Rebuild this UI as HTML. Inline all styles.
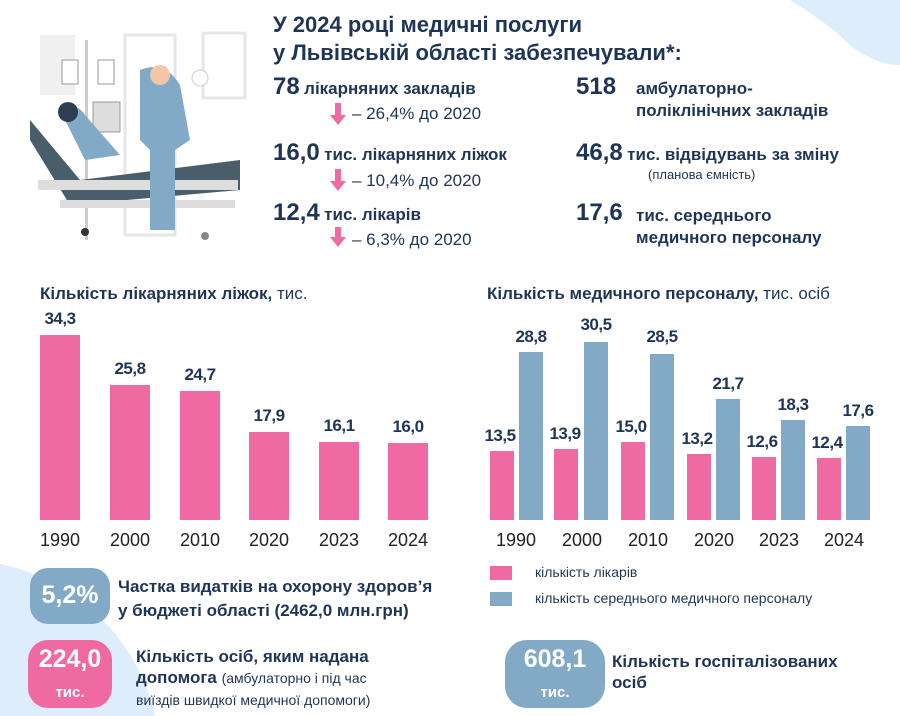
<!DOCTYPE html>
<html><head><meta charset="utf-8"><style>
*{margin:0;padding:0;box-sizing:border-box}
html,body{width:900px;height:716px;overflow:hidden}
body{background:#fff;font-family:"Liberation Sans","DejaVu Sans",sans-serif;color:#1f3556;position:relative}
.a{position:absolute;white-space:nowrap}
.b{font-weight:bold}
.bar{position:absolute}
.p{background:#ef6aa2}.u{background:#82a9c5}
.v{position:absolute;font-weight:bold;font-size:17px;text-align:center;width:60px;letter-spacing:-0.5px}
.y{position:absolute;font-size:18px;text-align:center;width:60px;top:530px;color:#222}
</style></head><body>
<svg class="a" style="left:0;top:0" width="900" height="716">
<circle cx="-40" cy="760" r="200" fill="#deedfb"/>
<path d="M790 0 Q830 25 850 45 Q875 65 900 65 L900 0 Z" fill="#deedfb"/>
<rect x="40" y="35" width="35" height="60" fill="#f0f0f0"/>
<rect x="125" y="35" width="50" height="200" fill="none" stroke="#e6e6e6" stroke-width="3"/>
<rect x="203" y="33" width="42" height="65" fill="none" stroke="#e6e6e6" stroke-width="3"/>
<rect x="85" y="40" width="3" height="200" fill="#ccc"/>
<rect x="62" y="60" width="16" height="24" fill="#fff" stroke="#999"/>
<rect x="98" y="60" width="16" height="24" fill="#fff" stroke="#999"/>
<rect x="93" y="102" width="27" height="30" fill="#ddd" stroke="#999"/>
<path d="M30 120 L80 180 L240 160 L240 190 L70 205 L30 140 Z" fill="#4a5d6b"/>
<rect x="38" y="180" width="200" height="10" fill="#ddd"/>
<rect x="60" y="200" width="175" height="8" fill="#ddd"/>
<path d="M140 70 Q165 60 180 85 L190 140 L175 150 L175 230 L150 230 L150 150 L140 140 Z" fill="#82a9c5"/>
<circle cx="160" cy="75" r="10" fill="#f3c6a9"/>
<path d="M60 110 Q75 100 85 115 L120 155 L85 160 Z" fill="#82a9c5"/>
<circle cx="68" cy="112" r="10" fill="#2c3e50"/>
<circle cx="200" cy="78" r="8" fill="#fff" stroke="#ccc"/>
<circle cx="85" cy="232" r="4" fill="#333"/><circle cx="205" cy="236" r="4" fill="#888"/>
</svg>
<div class="a b" style="left:273px;top:11px;font-size:22px;line-height:28px">У 2024 році медичні послуги<br>у Львівській області забезпечували*:</div>
<div class="a" style="left:273px;top:73px"><span class="b" style="font-size:24px">78</span> <span class="b" style="font-size:17px">лікарняних закладів</span></div>
<div class="a" style="left:352px;top:104px;font-size:17px">– 26,4% до 2020</div>
<div class="a" style="left:273px;top:139px"><span class="b" style="font-size:24px">16,0</span> <span class="b" style="font-size:17px">тис. лікарняних ліжок</span></div>
<div class="a" style="left:352px;top:171px;font-size:17px">– 10,4% до 2020</div>
<div class="a" style="left:273px;top:199px"><span class="b" style="font-size:24px">12,4</span> <span class="b" style="font-size:17px">тис. лікарів</span></div>
<div class="a" style="left:352px;top:230px;font-size:17px">– 6,3% до 2020</div>
<svg class="a" style="left:330px;top:103px" width="16" height="146"><g fill="#ef6aa2">
<rect x="5" y="0" width="6" height="12"/><path d="M0 12 L16 12 L8 22Z"/>
<rect x="5" y="66" width="6" height="12"/><path d="M0 78 L16 78 L8 88Z"/>
<rect x="5" y="124" width="6" height="12"/><path d="M0 134 L16 134 L8 144Z"/></g></svg>
<div class="a b" style="left:576px;top:73px;font-size:24px">518</div>
<div class="a b" style="left:636px;top:78px;font-size:17px;line-height:22px">амбулаторно-<br>поліклінічних закладів</div>
<div class="a" style="left:576px;top:139px"><span class="b" style="font-size:24px">46,8</span> <span class="b" style="font-size:17px">тис. відвідувань за зміну</span></div>
<div class="a" style="left:648px;top:167px;font-size:13px">(планова ємність)</div>
<div class="a b" style="left:576px;top:199px;font-size:24px">17,6</div>
<div class="a b" style="left:636px;top:205px;font-size:17px;line-height:22px">тис. середнього<br>медичного персоналу</div>

<div class="a" style="left:40px;top:284px;font-size:17px"><b>Кількість лікарняних ліжок,</b> тис.</div>
<div class="a" style="left:487px;top:284px;font-size:17px"><b>Кількість медичного персоналу,</b> тис. осіб</div>

<div class="bar p" style="left:40px;top:335px;width:40px;height:185px"></div><div class="v" style="left:30px;top:309px">34,3</div>
<div class="bar p" style="left:110px;top:385px;width:40px;height:135px"></div><div class="v" style="left:100px;top:359px">25,8</div>
<div class="bar p" style="left:180px;top:391px;width:40px;height:129px"></div><div class="v" style="left:170px;top:365px">24,7</div>
<div class="bar p" style="left:249px;top:432px;width:40px;height:88px"></div><div class="v" style="left:239px;top:406px">17,9</div>
<div class="bar p" style="left:319px;top:442px;width:40px;height:78px"></div><div class="v" style="left:309px;top:416px">16,1</div>
<div class="bar p" style="left:388px;top:443px;width:40px;height:77px"></div><div class="v" style="left:378px;top:417px">16,0</div>
<div class="y" style="left:30px">1990</div><div class="y" style="left:100px">2000</div><div class="y" style="left:170px">2010</div><div class="y" style="left:239px">2020</div><div class="y" style="left:309px">2023</div><div class="y" style="left:378px">2024</div>

<div class="bar p" style="left:490px;top:451px;width:24px;height:69px"></div><div class="v" style="left:470px;top:426px">13,5</div>
<div class="bar u" style="left:519px;top:352px;width:24px;height:168px"></div><div class="v" style="left:501px;top:327px">28,8</div>
<div class="bar p" style="left:554px;top:449px;width:24px;height:71px"></div><div class="v" style="left:535px;top:424px">13,9</div>
<div class="bar u" style="left:584px;top:342px;width:24px;height:178px"></div><div class="v" style="left:566px;top:315px">30,5</div>
<div class="bar p" style="left:621px;top:442px;width:24px;height:78px"></div><div class="v" style="left:601px;top:417px">15,0</div>
<div class="bar u" style="left:650px;top:354px;width:24px;height:166px"></div><div class="v" style="left:632px;top:327px">28,5</div>
<div class="bar p" style="left:687px;top:454px;width:24px;height:66px"></div><div class="v" style="left:667px;top:429px">13,2</div>
<div class="bar u" style="left:716px;top:399px;width:24px;height:121px"></div><div class="v" style="left:698px;top:374px">21,7</div>
<div class="bar p" style="left:752px;top:457px;width:24px;height:63px"></div><div class="v" style="left:732px;top:432px">12,6</div>
<div class="bar u" style="left:781px;top:420px;width:24px;height:100px"></div><div class="v" style="left:763px;top:395px">18,3</div>
<div class="bar p" style="left:817px;top:458px;width:24px;height:62px"></div><div class="v" style="left:797px;top:433px">12,4</div>
<div class="bar u" style="left:846px;top:426px;width:24px;height:94px"></div><div class="v" style="left:828px;top:401px">17,6</div>
<div class="y" style="left:486px">1990</div><div class="y" style="left:552px">2000</div><div class="y" style="left:618px">2010</div><div class="y" style="left:684px">2020</div><div class="y" style="left:749px">2023</div><div class="y" style="left:814px">2024</div>

<div class="bar p" style="left:490px;top:566px;width:22px;height:14px"></div>
<div class="a" style="left:535px;top:564px;font-size:14px">кількість лікарів</div>
<div class="bar u" style="left:490px;top:592px;width:22px;height:14px"></div>
<div class="a" style="left:535px;top:590px;font-size:14px">кількість середнього медичного персоналу</div>

<div class="bar u" style="left:30px;top:568px;width:80px;height:56px;border-radius:18px"></div>
<div class="a b" style="left:30px;top:581px;width:80px;text-align:center;font-size:25px;color:#fff">5,2%</div>
<div class="a b" style="left:118px;top:575px;font-size:17px;line-height:24px">Частка видатків на охорону здоров’я<br>у бюджеті області (2462,0 млн.грн)</div>

<div class="bar p" style="left:28px;top:640px;width:84px;height:68px;border-radius:20px"></div>
<div class="a b" style="left:28px;top:644px;width:84px;text-align:center;font-size:25px;color:#fff;line-height:30px">224,0<br><span style="font-size:15px">тис.</span></div>
<div class="a" style="left:136px;top:646px;font-size:17px;line-height:21px"><b>Кількість осіб, яким надана</b><br><b>допомога</b> <span style="font-size:14px">(амбулаторно і під час</span><br><span style="font-size:14px">виїздів швидкої медичної допомоги)</span></div>

<div class="bar u" style="left:505px;top:640px;width:100px;height:68px;border-radius:22px"></div>
<div class="a b" style="left:505px;top:644px;width:100px;text-align:center;font-size:25px;color:#fff;line-height:30px">608,1<br><span style="font-size:15px">тис.</span></div>
<div class="a b" style="left:612px;top:651px;font-size:17px;line-height:21px">Кількість госпіталізованих<br>осіб</div>
</body></html>
